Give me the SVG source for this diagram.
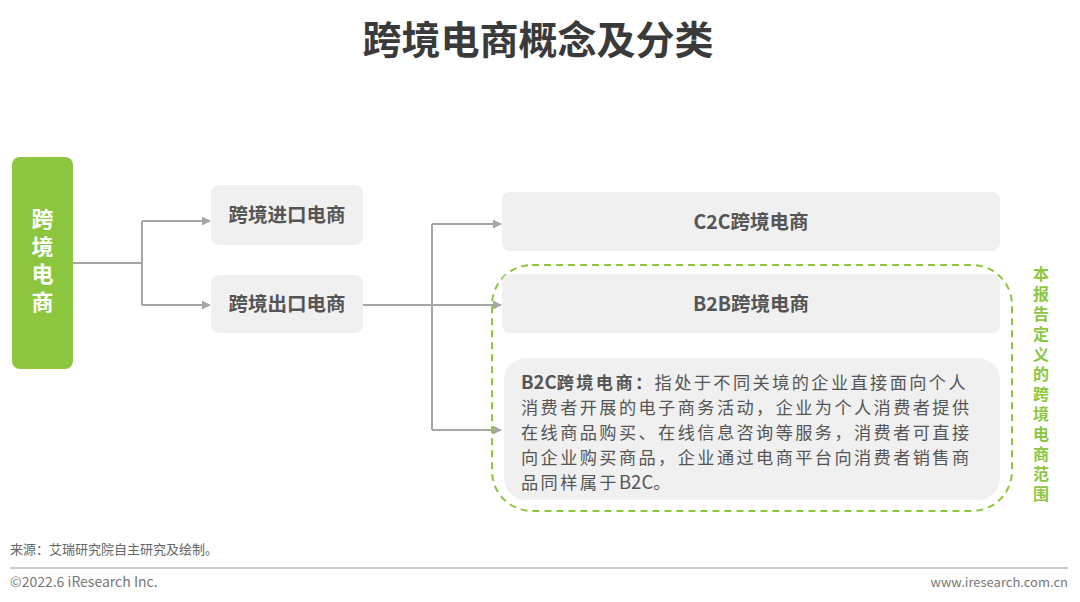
<svg xmlns="http://www.w3.org/2000/svg" width="1080" height="602" viewBox="0 0 1080 602">
<defs>
<style>
.cn{font-family:"Noto Sans CJK SC","Liberation Sans",sans-serif;}
.box{fill:#f0f0f0;}
.lbl{font-size:19.5px;font-weight:bold;fill:#555;text-anchor:middle;}
.conn{fill:none;stroke:#a6a6a6;stroke-width:2;}
.vt{font-size:16px;font-weight:bold;fill:#8cc63f;writing-mode:vertical-rl;letter-spacing:4px;}
.gt{font-size:22px;font-weight:bold;fill:#fff;writing-mode:vertical-rl;letter-spacing:5.5px;}
.body{font-size:17.2px;fill:#555;letter-spacing:2.4px;}
.lat{letter-spacing:0;font-size:18.5px;}
</style>
<marker id="arr" viewBox="0 0 10 10" refX="9" refY="5" markerWidth="9" markerHeight="9" orient="auto" markerUnits="userSpaceOnUse">
<path d="M0,0 L10,5 L0,10 z" fill="#a6a6a6"/>
</marker>
</defs>
<rect width="1080" height="602" fill="#fff"/>
<text class="cn" x="538" y="54" font-size="39" font-weight="bold" fill="#3a3a3a" text-anchor="middle">跨境电商概念及分类</text>

<g id="connectors">
<path class="conn" d="M73,263 H142"/>
<path class="conn" d="M142,221 V305"/>
<path class="conn" d="M142,221 H210" marker-end="url(#arr)"/>
<path class="conn" d="M142,305 H210" marker-end="url(#arr)"/>
<path class="conn" d="M363,305 H501" marker-end="url(#arr)"/>
<path class="conn" d="M432,224 V430"/>
<path class="conn" d="M432,224 H501" marker-end="url(#arr)"/>
<path class="conn" d="M432,430 H501" marker-end="url(#arr)"/>
</g>

<g id="node-root">
<rect x="12" y="157" width="61" height="212" rx="8" fill="#8cc63f"/>
<text class="cn gt" x="42.5" y="208">跨境电商</text>
</g>

<g id="node-import">
<rect class="box" x="211" y="185" width="152" height="60" rx="8"/>
<text class="cn lbl" x="287" y="222">跨境进口电商</text>
</g>
<g id="node-export">
<rect class="box" x="211" y="275" width="152" height="58" rx="8"/>
<text class="cn lbl" x="287" y="311">跨境出口电商</text>
</g>

<g id="node-c2c">
<rect class="box" x="502" y="192" width="498" height="59" rx="8"/>
<text class="cn lbl" x="751" y="229">C2C跨境电商</text>
</g>

<g id="scope">
<rect x="492" y="265" width="520" height="246" rx="40" fill="none" stroke="#8cc63f" stroke-width="2" stroke-dasharray="7,5"/>
</g>

<g id="node-b2b">
<rect class="box" x="502" y="274" width="498" height="59" rx="8"/>
<text class="cn lbl" x="751" y="311">B2B跨境电商</text>
</g>

<g id="node-b2c">
<rect class="box" x="504" y="358" width="496" height="142" rx="22"/>
<text class="cn body" x="521" y="389"><tspan font-weight="bold"><tspan class="lat">B2C</tspan>跨境电商：</tspan>指处于不同关境的企业直接面向个人</text>
<text class="cn body" x="521" y="414">消费者开展的电子商务活动，企业为个人消费者提供</text>
<text class="cn body" x="521" y="439">在线商品购买、在线信息咨询等服务，消费者可直接</text>
<text class="cn body" x="521" y="464">向企业购买商品，企业通过电商平台向消费者销售商</text>
<text class="cn body" x="521" y="489">品同样属于<tspan class="lat">B2C</tspan>。</text>
</g>

<g id="scope-label">
<text class="cn vt" x="1041" y="266">本报告定义的跨境电商范围</text>
</g>

<text class="cn" x="10" y="554" font-size="13" fill="#666">来源：艾瑞研究院自主研究及绘制。</text>
<line x1="10" y1="568" x2="1068" y2="568" stroke="#999" stroke-width="1.2"/>
<text class="cn" x="10" y="587" font-size="14" fill="#777">©2022.6 iResearch Inc.</text>
<text class="cn" x="1068" y="587" font-size="13" fill="#777" text-anchor="end">www.iresearch.com.cn</text>
</svg>
